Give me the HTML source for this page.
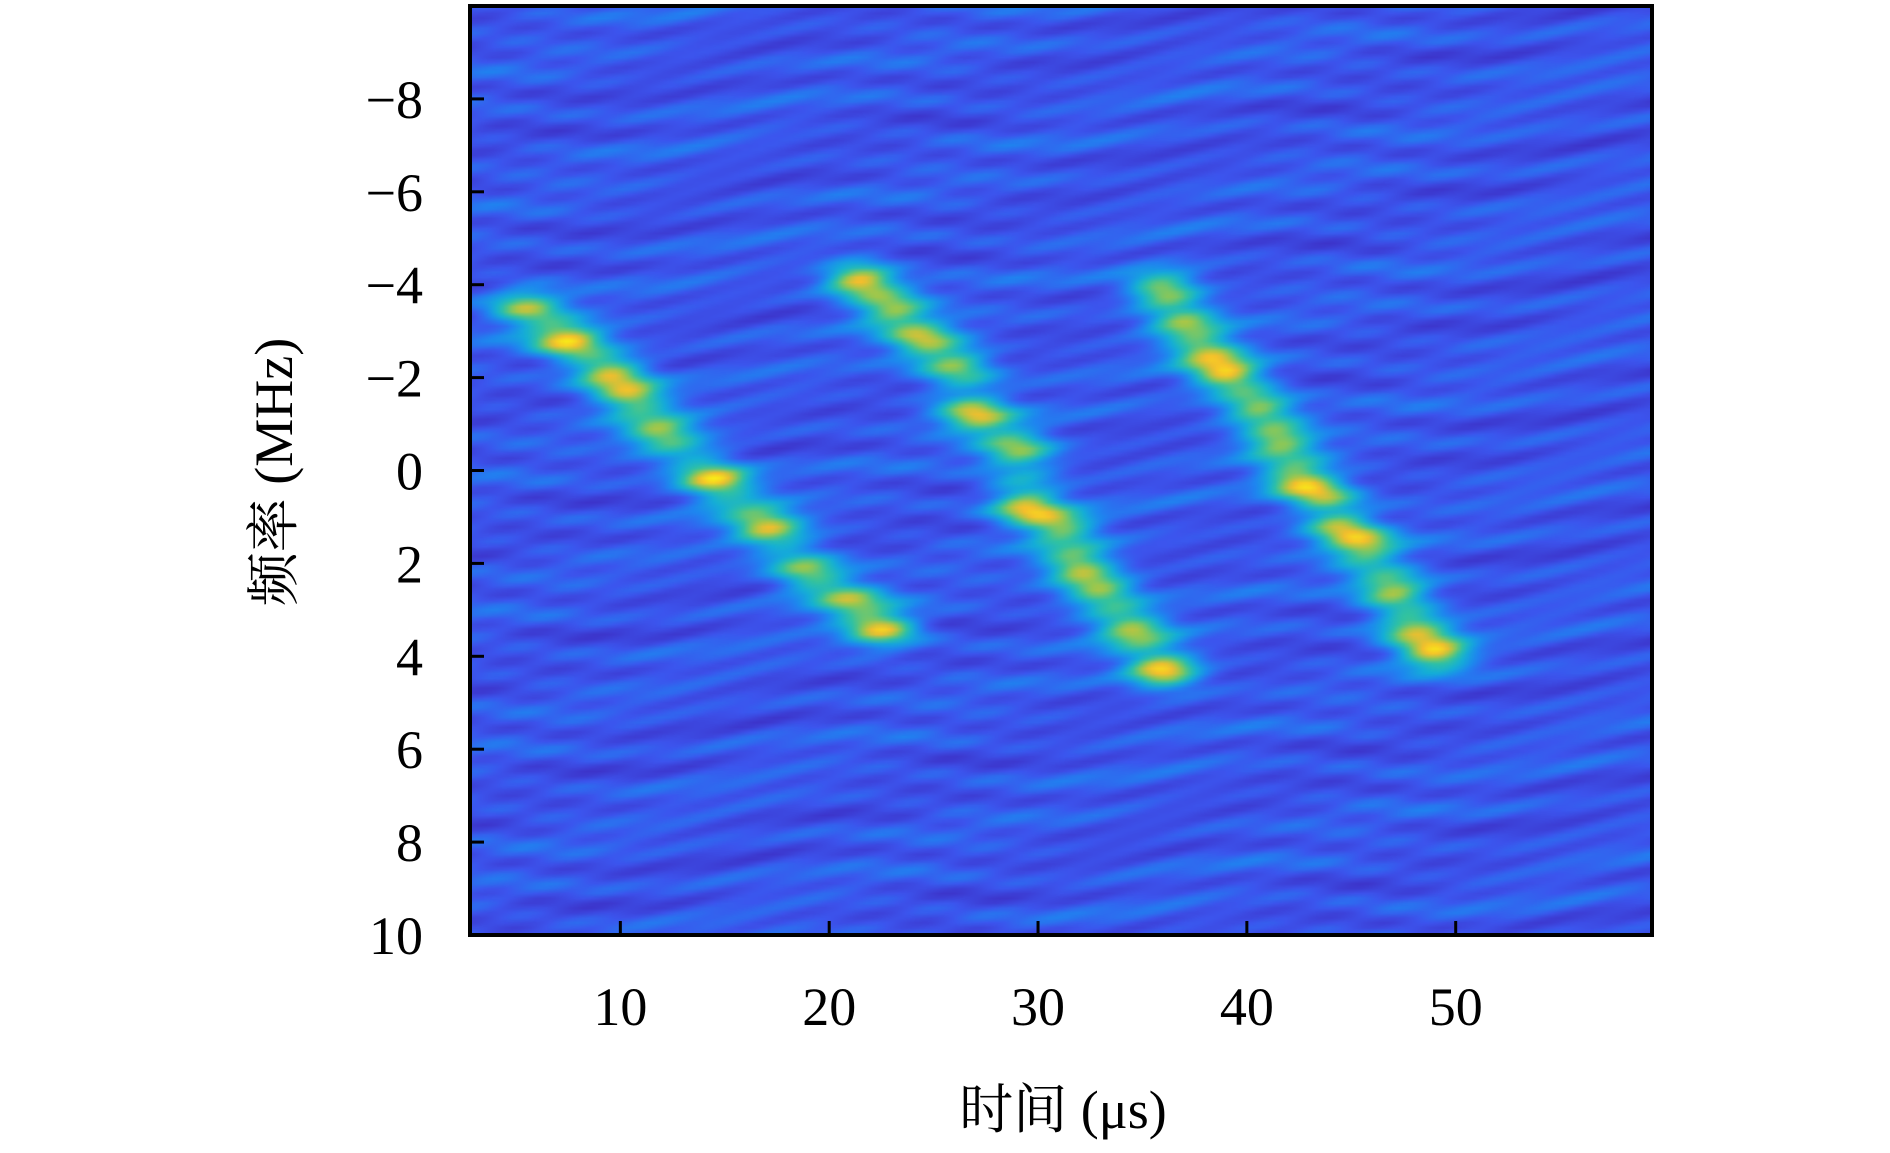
<!DOCTYPE html>
<html><head><meta charset="utf-8">
<style>
body{margin:0;background:#fff;width:1890px;height:1153px;overflow:hidden;position:relative;font-family:"Liberation Serif","Noto Serif CJK SC",serif;}
#plot{position:absolute;left:0;top:0;}
</style></head><body>
<svg id="plot" width="1890" height="1153" xmlns="http://www.w3.org/2000/svg">
<foreignObject x="470" y="6" width="1182" height="929"><canvas xmlns="http://www.w3.org/1999/xhtml" id="hm" width="1182" height="929"></canvas></foreignObject>
<rect x="470" y="6" width="1182" height="929" fill="none" stroke="#000" stroke-width="4"/>
<g id="axes"></g>
<text x="1063" y="1128" text-anchor="middle" font-size="54" font-family="Liberation Serif, Noto Serif CJK SC, serif">时间 (μs)</text>
<text transform="translate(292,472) rotate(-90)" text-anchor="middle" font-size="54" font-family="Liberation Serif, Noto Serif CJK SC, serif">频率 (MHz)</text>
</svg>
<script>
const xTicks=[10,20,30,40,50];
const yTicks=[-8,-6,-4,-2,0,2,4,6,8,10];
const peakT=[5.5,7.5,9.5,10.5,12,14.5,17,19,21,22.5, 21.5,23,24.5,26,27,29,29.5,31,32,33,34.5,36, 36,37,38,39,40.5,41.5,42.5,43.5,44.5,45.5,47,48,49];
const peakF=[-3.5,-2.8,-2.1,-1.6,-0.8,0.2,1.2,2.2,2.8,3.4, -4.1,-3.5,-2.8,-2.3,-1.2,-0.5,0.8,1.2,2.1,2.6,3.4,4.3, -3.9,-3.2,-2.6,-2.1,-1.4,-0.7,0.2,0.5,1.2,1.6,2.6,3.4,3.9];
const peakA=[0.6,1.0,0.85,0.7,0.6,1.0,0.8,0.6,0.55,0.9, 0.95,0.65,0.7,0.55,0.75,0.55,0.85,0.6,0.75,0.6,0.65,1.0, 0.7,0.55,0.6,1.0,0.6,0.65,0.8,0.6,0.65,0.7,0.7,0.65,0.95];
const chirpStart=[0,10,22];
const X0=470,X1=1652,Y0=6,Y1=935,TMIN=2.8,TMAX=59.4,FMIN=-10,FMAX=10;
const xs=t=>X0+(t-TMIN)/(TMAX-TMIN)*(X1-X0);
const ys=f=>Y0+(f-FMIN)/(FMAX-FMIN)*(Y1-Y0);
const NS="http://www.w3.org/2000/svg";
const ax=document.getElementById('axes');
function mk(tag,at,txt){const e=document.createElementNS(NS,tag);for(const k in at)e.setAttribute(k,at[k]);if(txt!==undefined)e.textContent=txt;ax.appendChild(e);return e;}
xTicks.forEach(v=>{
 const l=mk('line',{x1:xs(v),x2:xs(v),y1:Y1,y2:Y1-14,stroke:'#000','stroke-width':3});
 
 
 const t=mk('text',{x:xs(v),y:1025,'text-anchor':'middle','font-size':54,'font-family':'Liberation Serif, serif'},String(v));
 
 
});
yTicks.forEach(v=>{
 const l=mk('line',{x1:X0,x2:X0+14,y1:ys(v),y2:ys(v),stroke:'#000','stroke-width':3});
 
 
 const t=mk('text',{x:423,y:ys(v)+19,'text-anchor':'end','font-size':54,'font-family':'Liberation Serif, serif'},(v<0?'\u2212':'')+Math.abs(v));
 
 
});
const stops=[[0,[45,30,140]],[0.12,[60,50,200]],[0.25,[60,85,238]],[0.38,[30,135,240]],[0.5,[20,175,215]],[0.62,[50,195,160]],[0.75,[150,200,80]],[0.87,[245,190,45]],[1,[250,245,20]]];
function cmap(v){v=Math.max(0,Math.min(1,v));for(let i=1;i<stops.length;i++){if(v<=stops[i][0]){const a=stops[i-1],b=stops[i],u=(v-a[0])/(b[0]-a[0]);return a[1].map((c,k)=>c+(b[1][k]-c)*u);}}return stops[stops.length-1][1];}
function segDist(t,f,a,b){const ax_=peakT[a],af=peakF[a],bx=peakT[b],bf=peakF[b];
 const sx=1/1.3,sf=1/0.33;const px=(t-ax_)*sx,pf=(f-af)*sf,dx=(bx-ax_)*sx,df=(bf-af)*sf;
 let u=(px*dx+pf*df)/(dx*dx+df*df);u=Math.max(0,Math.min(1,u));const ex=px-u*dx,ef=pf-u*df;return ex*ex+ef*ef;}
const cv=document.getElementById('hm'),ctx=cv.getContext('2d');
const W=240,H=190,off=document.createElement('canvas');off.width=W;off.height=H;
const oc=off.getContext('2d'),img=oc.createImageData(W,H);
for(let j=0;j<H;j++){const f=FMIN+(j+0.5)/H*(FMAX-FMIN);
 for(let i=0;i<W;i++){const t=TMIN+(i+0.5)/W*(TMAX-TMIN);
  let v=0.25+0.05*Math.sin(f*4.3+t*0.23)*Math.cos(f*2.1-t*0.13)+0.045*Math.sin(f*8.7+Math.cos(t*0.31)*2+t*0.05)+0.03*Math.sin(f*13+t*1.7);
  let s=0;
  for(let k=0;k<peakT.length;k++){const dt=(t-peakT[k])/1.1,df=(f-peakF[k])/0.22;s+=peakA[k]*Math.exp(-0.5*(dt*dt+df*df));}
  let r=0;
  for(let c=0;c<3;c++){const st=chirpStart[c],en=(c<2?chirpStart[c+1]:peakT.length)-1;
   for(let k=st;k<en;k++){r=Math.max(r,Math.exp(-0.5*segDist(t,f,k,k+1)));}}
  v+=0.42*s+0.25*r;
  const col=cmap(v),p=(j*W+i)*4;img.data[p]=col[0];img.data[p+1]=col[1];img.data[p+2]=col[2];img.data[p+3]=255;}}
oc.putImageData(img,0,0);
ctx.imageSmoothingEnabled=true;ctx.drawImage(off,0,0,cv.width,cv.height);
</script>
</body></html>
